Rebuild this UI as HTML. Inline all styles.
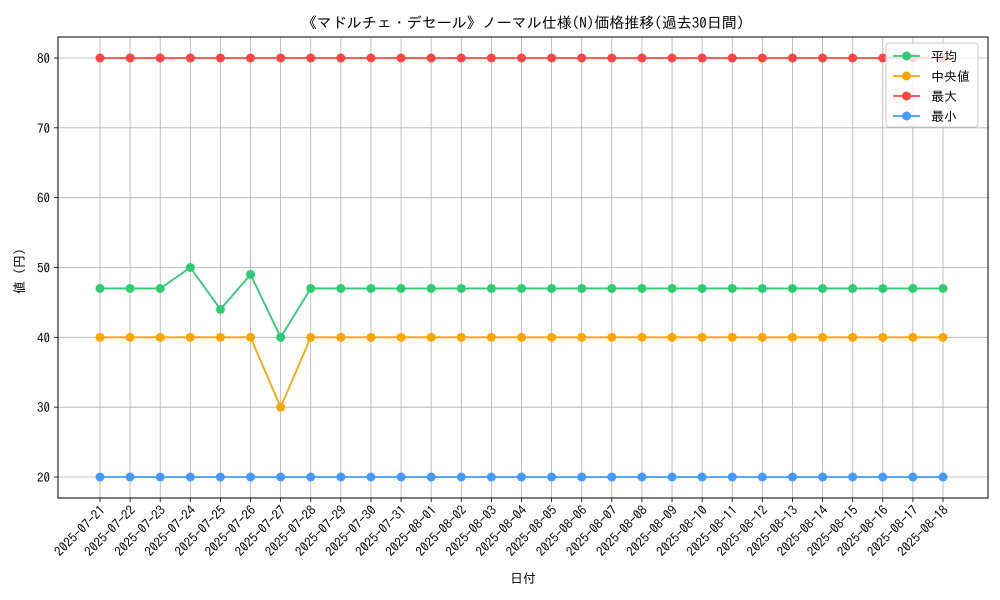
<!DOCTYPE html>
<html><head><meta charset="utf-8">
<style>
body{margin:0;background:#fff;}
svg{display:block;font-family:"IPAGothic","Noto Sans CJK JP",sans-serif;}
</style></head>
<body>
<svg id="chart" width="1000" height="600"></svg>
<script>
const dates = ["2025-07-21","2025-07-22","2025-07-23","2025-07-24","2025-07-25","2025-07-26","2025-07-27","2025-07-28","2025-07-29","2025-07-30","2025-07-31","2025-08-01","2025-08-02","2025-08-03","2025-08-04","2025-08-05","2025-08-06","2025-08-07","2025-08-08","2025-08-09","2025-08-10","2025-08-11","2025-08-12","2025-08-13","2025-08-14","2025-08-15","2025-08-16","2025-08-17","2025-08-18"];
const avgValues = [47,47,47,50,44,49,40,47,47,47,47,47,47,47,47,47,47,47,47,47,47,47,47,47,47,47,47,47,47];
const medianValues = [40,40,40,40,40,40,30,40,40,40,40,40,40,40,40,40,40,40,40,40,40,40,40,40,40,40,40,40,40];
const maxValues = [80,80,80,80,80,80,80,80,80,80,80,80,80,80,80,80,80,80,80,80,80,80,80,80,80,80,80,80,80];
const minValues = [20,20,20,20,20,20,20,20,20,20,20,20,20,20,20,20,20,20,20,20,20,20,20,20,20,20,20,20,20];
const yTicks = [20,30,40,50,60,70,80];

const NS="http://www.w3.org/2000/svg";
const svg=document.getElementById('chart');
const L=58,R=988,T=37,B=498;
const x0=100,x1=943;
function xs(i){return x0+(x1-x0)*i/(dates.length-1);}
function ys(v){return 477-(v-20)*(477-58)/60;}
function mk(tag,attrs,parent){const e=document.createElementNS(NS,tag);for(const k in attrs)e.setAttribute(k,attrs[k]);(parent||svg).appendChild(e);return e;}

dates.forEach((d,i)=>{
  const g=mk('line',{x1:xs(i),x2:xs(i),y1:T,y2:B,stroke:'#b0b0b0','stroke-width':0.8});
  
  
});
yTicks.forEach(v=>{
  const g=mk('line',{x1:L,x2:R,y1:ys(v),y2:ys(v),stroke:'#b0b0b0','stroke-width':0.8});
  
  
  mk('line',{x1:L-4,x2:L,y1:ys(v),y2:ys(v),stroke:'#000','stroke-width':0.8});
  const t=mk('text',{x:L-8,y:ys(v)+5,'text-anchor':'end','font-size':13,fill:'#000'});
  t.textContent=v;
  
  
});
dates.forEach((d,i)=>{
  mk('line',{x1:xs(i),x2:xs(i),y1:B,y2:B+4,stroke:'#000','stroke-width':0.8});
  const t=mk('text',{x:xs(i)+6,y:B+13,'text-anchor':'end','font-size':13,fill:'#000',transform:`rotate(-45 ${xs(i)+6} ${B+13})`});
  t.textContent=d;
  
  
});
const frame=mk('rect',{x:L,y:T,width:R-L,height:B-T,fill:'none',stroke:'#000','stroke-width':1});



const series=[
  {name:'平均',vals:avgValues,color:'#2ecc71',id:'series-average'},
  {name:'中央値',vals:medianValues,color:'#ffa500',id:'series-median'},
  {name:'最大',vals:maxValues,color:'#ff4444',id:'series-max'},
  {name:'最小',vals:minValues,color:'#4499ff',id:'series-min'}
];
series.forEach(s=>{
  const g=mk('g',{});
  
  
  mk('polyline',{points:s.vals.map((v,i)=>xs(i)+','+ys(v)).join(' '),fill:'none',stroke:s.color,'stroke-width':1.8},g);
  s.vals.forEach((v,i)=>{
    const c=mk('circle',{cx:xs(i),cy:ys(v),r:4.5,fill:s.color},g);
    
    
  });
});

const lg=mk('g',{});


mk('rect',{x:886,y:43,width:92,height:84,fill:'#fff','fill-opacity':0.8,stroke:'#ccc',rx:3},lg);
series.forEach((s,i)=>{
  const y=56+i*20;
  const e=mk('g',{},lg);
  
  
  mk('line',{x1:893,x2:920,y1:y,y2:y,stroke:s.color,'stroke-width':1.8},e);
  mk('circle',{cx:906.5,cy:y,r:4.5,fill:s.color},e);
  const t=mk('text',{x:931,y:y+5,'font-size':13,fill:'#000'},e);
  t.textContent=s.name;
});

const title=mk('text',{x:523,y:28,'text-anchor':'middle','font-size':15,fill:'#000'});
title.textContent='《マドルチェ・デセール》ノーマル仕様(N)価格推移(過去30日間)';


const xl=mk('text',{x:523,y:583,'text-anchor':'middle','font-size':13,fill:'#000'});
xl.textContent='日付';


const yl=mk('text',{x:24,y:268,'text-anchor':'middle','font-size':13,fill:'#000',transform:'rotate(-90 24 268)'});
yl.textContent='値（円）';


</script>
</body></html>
